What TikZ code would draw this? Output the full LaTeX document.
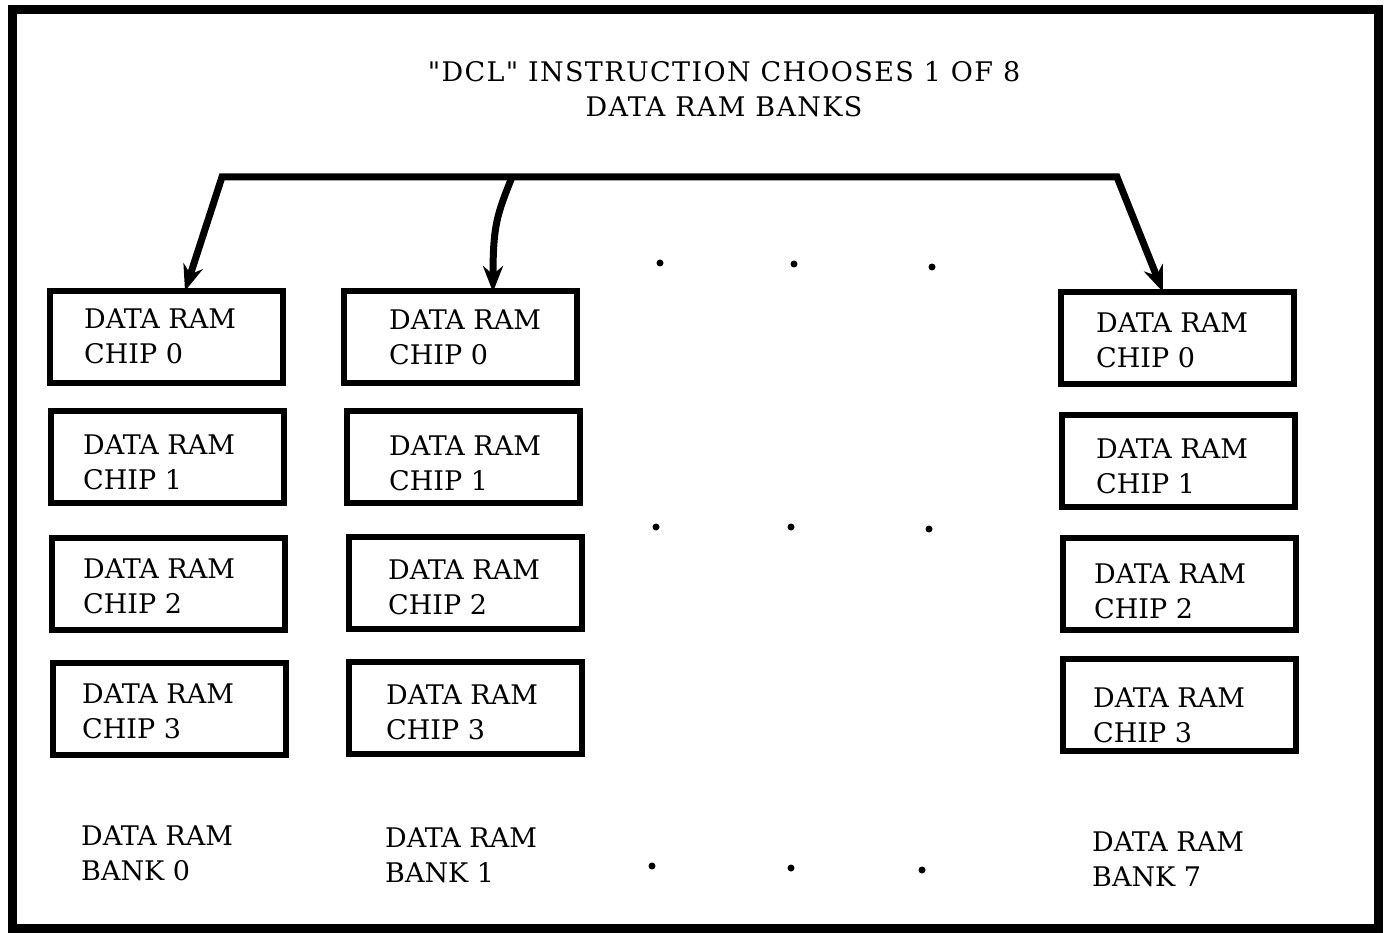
\documentclass[tikz,border=0pt]{standalone}
\usepackage{fontspec}
\setmainfont{DejaVu Serif}[Ligatures=TeXOff]
\usetikzlibrary{arrows.meta,calc}
\begin{document}
\begin{tikzpicture}[x=1pt,y=-1pt,
  txt/.style={font=\fontsize{27}{35}\selectfont},
  chip/.style={draw,line width=6pt,minimum width=233pt,minimum height=92pt,inner sep=0pt},
  lbl/.style={txt,align=left,inner sep=0pt,anchor=west},
  bus/.style={line width=7pt,line join=miter},
  tips/.style={{Stealth[length=26pt,width=20pt]}-{Stealth[length=26pt,width=20pt]}},
  tip/.style={-{Stealth[length=26pt,width=20pt]}},
  dotc/.style={fill,circle,inner sep=0pt,minimum size=7pt}]
\useasboundingbox (0,0) rectangle (1392,933);
\draw[line width=9pt] (12,10) rectangle (1378,928);
\node[font=\fontsize{27}{35}\selectfont\addfontfeatures{LetterSpace=5},align=center,inner sep=0pt] (title) at (724,89)
  {\symbol{"22}DCL\symbol{"22} INSTRUCTION CHOOSES 1 OF 8\\DATA RAM BANKS};
% bank 0
\node[chip] (b00) at (166,337) {};
\node[chip] (b01) at (167,457) {};
\node[chip] (b02) at (168,584) {};
\node[chip] (b03) at (169,709) {};
\node[lbl] (t00) at (84,336.5) {DATA RAM\\CHIP 0};
\node[lbl] (t01) at (83,462) {DATA RAM\\CHIP 1};
\node[lbl] (t02) at (83,586.5) {DATA RAM\\CHIP 2};
\node[lbl] (t03) at (82,711) {DATA RAM\\CHIP 3};
% bank 1
\node[chip] (b10) at (460,337) {};
\node[chip] (b11) at (463,457) {};
\node[chip] (b12) at (465,583) {};
\node[chip] (b13) at (465,708) {};
\node[lbl] (t10) at (389,337) {DATA RAM\\CHIP 0};
\node[lbl] (t11) at (389,463) {DATA RAM\\CHIP 1};
\node[lbl] (t12) at (388,587.5) {DATA RAM\\CHIP 2};
\node[lbl] (t13) at (386,712.5) {DATA RAM\\CHIP 3};
% bank 7
\node[chip] (b70) at (1177,338) {};
\node[chip] (b71) at (1178,461) {};
\node[chip] (b72) at (1179,584) {};
\node[chip] (b73) at (1179,705) {};
\node[lbl] (t70) at (1096,340) {DATA RAM\\CHIP 0};
\node[lbl] (t71) at (1096,466) {DATA RAM\\CHIP 1};
\node[lbl] (t72) at (1094,591.5) {DATA RAM\\CHIP 2};
\node[lbl] (t73) at (1093,715) {DATA RAM\\CHIP 3};
% bank labels
\node[lbl] (l0) at (81,853) {DATA RAM\\BANK 0};
\node[lbl] (l1) at (385,855) {DATA RAM\\BANK 1};
\node[lbl] (l7) at (1092,859) {DATA RAM\\BANK 7};
% dots
\node[dotc] (d1) at (660,263) {};
\node[dotc] (d2) at (794,264) {};
\node[dotc] (d3) at (932,267) {};
\node[dotc] (d4) at (656,527) {};
\node[dotc] (d5) at (791,527) {};
\node[dotc] (d6) at (929,529) {};
\node[dotc] (d7) at (652,866) {};
\node[dotc] (d8) at (791,868) {};
\node[dotc] (d9) at (922,870) {};
% bus
\coordinate (cL) at (222,177);
\coordinate (cM) at (512,177);
\coordinate (cR) at (1117,177);
\draw[bus,tips] ([xshift=19pt,yshift=-3pt]b00.north) -- (cL) -- (cR)
  -- ([xshift=-14pt,yshift=-3pt]b70.north);
\draw[bus,tip] (cM) .. controls (497,215) and (493,225) .. ([xshift=33pt,yshift=-4pt]b10.north);
\end{tikzpicture}
\end{document}
